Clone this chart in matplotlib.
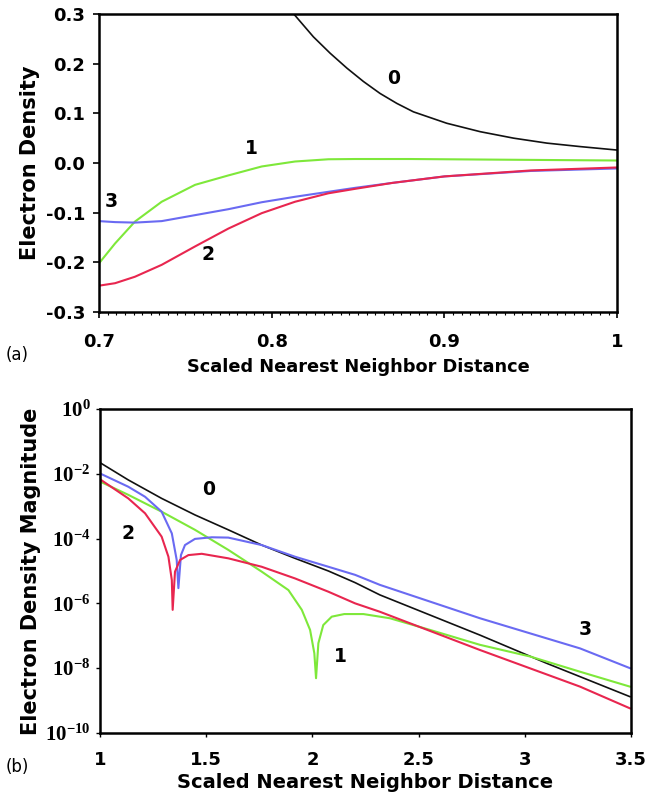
import matplotlib
matplotlib.use("Agg")
import matplotlib.pyplot as plt
import numpy as np
from matplotlib.ticker import MultipleLocator, FixedLocator, FuncFormatter

# (a) electron density vs scaled distance
x0_a = [0.8125, 0.8241, 0.8338, 0.8435, 0.8531, 0.8627, 0.8724, 0.882, 0.9013, 0.9207, 0.94, 0.9593, 0.9786, 1.0]
y0_a = [0.301, 0.254, 0.221, 0.191, 0.164, 0.140, 0.120, 0.103, 0.080, 0.063, 0.050, 0.040, 0.033, 0.026]

x1_a = [0.7, 0.7093, 0.7208, 0.7363, 0.7556, 0.7749, 0.7942, 0.8135, 0.8328, 0.8483, 0.88, 0.92, 0.96, 1.0]
y1_a = [-0.202, -0.162, -0.118, -0.078, -0.044, -0.025, -0.007, 0.003, 0.0075, 0.008, 0.008, 0.007, 0.006, 0.005]

x2_a = [0.7, 0.7093, 0.7208, 0.7363, 0.7556, 0.7749, 0.7942, 0.8135, 0.8328, 0.8483, 0.87, 0.9, 0.95, 1.0]
y2_a = [-0.247, -0.242, -0.229, -0.205, -0.168, -0.132, -0.101, -0.078, -0.061, -0.052, -0.040, -0.027, -0.015, -0.009]

x3_a = [0.7, 0.7093, 0.7208, 0.7363, 0.7556, 0.7749, 0.7942, 0.8135, 0.8328, 0.8483, 0.87, 0.9, 0.95, 1.0]
y3_a = [-0.117, -0.119, -0.120, -0.117, -0.105, -0.093, -0.079, -0.068, -0.058, -0.050, -0.040, -0.027, -0.016, -0.011]

# (b) log10 of electron density magnitude
x0_b = [1.0, 1.133, 1.290, 1.447, 1.604, 1.761, 1.918, 2.075, 2.201, 2.318, 2.789, 3.103, 3.495]
y0_b = [-1.657, -2.19, -2.76, -3.27, -3.73, -4.20, -4.61, -5.00, -5.36, -5.74, -6.98, -7.85, -8.88]

x1_b = [1.0, 1.133, 1.290, 1.447, 1.604, 1.761, 1.887, 1.950, 1.989, 2.009, 2.017,
        2.028, 2.051, 2.091, 2.150, 2.240, 2.365, 2.554, 2.789, 3.025, 3.26, 3.495]
y1_b = [-2.24, -2.65, -3.17, -3.73, -4.35, -5.02, -5.59, -6.20, -6.82, -7.54, -8.31,
        -7.23, -6.67, -6.41, -6.33, -6.33, -6.46, -6.82, -7.28, -7.64, -8.11, -8.57]

x2_b = [1.0, 1.133, 1.212, 1.290, 1.322, 1.338, 1.342, 1.353, 1.377, 1.416, 1.479,
        1.604, 1.761, 1.918, 2.075, 2.201, 2.318, 2.789, 3.26, 3.495]
y2_b = [-2.17, -2.76, -3.22, -3.94, -4.56, -5.28, -6.20, -5.02, -4.66, -4.51, -4.47,
        -4.61, -4.87, -5.23, -5.64, -6.00, -6.26, -7.44, -8.57, -9.24]

x3_b = [1.0, 1.133, 1.212, 1.290, 1.338, 1.361, 1.369, 1.381, 1.400, 1.447, 1.526,
        1.604, 1.761, 1.918, 2.075, 2.201, 2.318, 2.789, 3.26, 3.495]
y3_b = [-1.99, -2.40, -2.71, -3.17, -3.84, -4.66, -5.53, -4.51, -4.20, -4.01, -3.96,
        -3.97, -4.20, -4.56, -4.87, -5.12, -5.43, -6.46, -7.39, -8.00]

lbl_a = [("0", 0.8704, 0.171), ("1", 0.7884, 0.029), ("3", 0.7073, -0.078), ("2", 0.7633, -0.185)]
lbl_b = [("0", 1.510, -2.48), ("2", 1.133, -3.84), ("1", 2.130, -7.64), ("3", 3.283, -6.82)]

c_black = "#111111"
c_green = "#7ee83a"
c_red = "#e8264f"
c_blue = "#6a6af2"

fig = plt.figure(figsize=(6.47, 7.98), dpi=100)
bold = dict(fontfamily="DejaVu Sans", fontweight="bold")

# ---- panel (a)
ax = fig.add_axes([0.153, 0.609, 0.801, 0.3735])
ax.plot(x0_a, y0_a, color=c_black, lw=1.2)
ax.plot(x1_a, y1_a, color=c_green, lw=1.5)
ax.plot(x3_a, y3_a, color=c_blue, lw=1.5)
ax.plot(x2_a, y2_a, color=c_red, lw=1.5)
for t, xx, yy in lbl_a:
    ax.text(xx, yy, t, ha="center", va="center", fontsize=13.5, **bold)
ax.set_xlim(0.7, 1.0)
ax.set_ylim(-0.3, 0.3)
ax.xaxis.set_major_locator(FixedLocator([0.7, 0.8, 0.9, 1.0]))
ax.xaxis.set_minor_locator(MultipleLocator(0.005))
ax.xaxis.set_major_formatter(FuncFormatter(lambda v, p: "1" if abs(v - 1) < 1e-9 else "%.1f" % v))
ax.yaxis.set_major_locator(MultipleLocator(0.1))
ax.yaxis.set_major_formatter(FuncFormatter(lambda v, p: "%.1f" % (0.0 if abs(v) < 1e-9 else v)))
ax.tick_params(axis="both", which="major", direction="out", length=4, width=1.2, labelsize=13, pad=11)
ax.tick_params(axis="y", pad=6)
ax.tick_params(axis="x", which="minor", direction="out", length=2.5, width=0.8)
for lab in ax.get_xticklabels() + ax.get_yticklabels():
    lab.set_fontweight("bold")
for s in ax.spines.values():
    s.set_linewidth(1.8)
ax.set_xlabel("Scaled Nearest Neighbor Distance", fontsize=12.8, labelpad=5, **bold)
ax.set_ylabel("Electron Density", fontsize=15, labelpad=4, **bold)
fig.text(0.008, 0.555, "(a)", fontsize=12, va="center", ha="left")

# ---- panel (b)
bx = fig.add_axes([0.1546, 0.0815, 0.8207, 0.406])
bx.plot(x0_b, 10 ** np.array(y0_b), color=c_black, lw=1.2)
bx.plot(x1_b, 10 ** np.array(y1_b), color=c_green, lw=1.5)
bx.plot(x3_b, 10 ** np.array(y3_b), color=c_blue, lw=1.5)
bx.plot(x2_b, 10 ** np.array(y2_b), color=c_red, lw=1.5)
for t, xx, yy in lbl_b:
    bx.text(xx, 10 ** yy, t, ha="center", va="center", fontsize=13.5, **bold)
bx.set_yscale("log")
bx.set_xlim(1.0, 3.5)
bx.set_ylim(1e-10, 1)
bx.xaxis.set_major_locator(FixedLocator([1, 1.5, 2, 2.5, 3, 3.5]))
bx.xaxis.set_major_formatter(FuncFormatter(lambda v, p: "%g" % v))
bx.yaxis.set_major_locator(FixedLocator([1e-10, 1e-8, 1e-6, 1e-4, 1e-2, 1]))
bx.yaxis.set_minor_locator(FixedLocator([]))
bx.yaxis.set_major_formatter(FuncFormatter(lambda v, p: r"$\mathregular{10^{%d}}$" % round(np.log10(v))))
bx.tick_params(axis="both", direction="out", length=3, width=1.0, labelsize=13)
bx.tick_params(axis="x", pad=10)
bx.tick_params(axis="y", pad=4)
for lab in bx.get_xticklabels():
    lab.set_fontweight("bold")
    lab.set_fontfamily("DejaVu Sans")
for lab in bx.get_yticklabels():
    lab.set_fontfamily("Liberation Serif")
    lab.set_fontweight("bold")
    lab.set_fontsize(15)
for s in bx.spines.values():
    s.set_linewidth(1.8)
bx.set_xlabel("Scaled Nearest Neighbor Distance", fontsize=14, labelpad=3, **bold)
bx.set_ylabel("Electron Density Magnitude", fontsize=15, labelpad=3, **bold)
fig.text(0.008, 0.039, "(b)", fontsize=12, va="center", ha="left")

fig.savefig("out.png", dpi=100)
